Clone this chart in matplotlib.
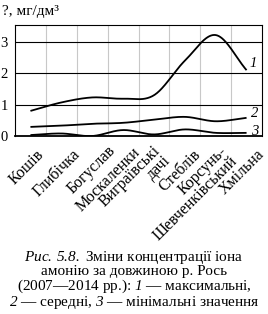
import numpy as np
import matplotlib.pyplot as plt
import matplotlib.transforms as mtransforms

plt.rcParams['font.family'] = ['Liberation Serif', 'DejaVu Serif']
plt.rcParams['mathtext.fontset'] = 'custom'
plt.rcParams['mathtext.rm'] = 'Liberation Serif'
plt.rcParams['mathtext.it'] = 'Liberation Serif:italic'
plt.rcParams['mathtext.bf'] = 'Liberation Serif:italic'

stations = ["Кошів", "Глибічка", "Богуслав", "Москаленки", "Виграївські\nдачі",
            "Стеблів", "Корсунь-\nШевченківський", "Хмільна"]
c_max = [0.80, 1.07, 1.23, 1.19, 1.30, 2.40, 3.22, 2.10]
c_mean = [0.29, 0.33, 0.39, 0.42, 0.52, 0.61, 0.47, 0.58]
c_min = [0.03, 0.08, 0.00, 0.19, 0.05, 0.21, 0.10, 0.10]

# зсув підписів (px) відносно поділки
lab_dx = [11, 16.5, 20.5, 15, 9, 13.5, 14, 15]
lab_dy = [16, 16, 12, 14, 17, 16, 18, 16]


def smooth(y, n=40):
    # згладжена лінія (Catmull-Rom), як у Excel
    y = np.asarray(y, float)
    p = np.concatenate([[2*y[0] - y[1]], y, [2*y[-1] - y[-2]]])
    t = np.linspace(0, 1, n)
    xs, ys = [], []
    for i in range(len(y) - 1):
        m1 = (p[i+2] - p[i]) / 2
        m2 = (p[i+3] - p[i+1]) / 2
        h00 = 2*t**3 - 3*t**2 + 1
        h10 = t**3 - 2*t**2 + t
        h01 = -2*t**3 + 3*t**2
        h11 = t**3 - t**2
        ys.append(h00*p[i+1] + h10*m1 + h01*p[i+2] + h11*m2)
        xs.append(i + t)
    return np.concatenate(xs), np.concatenate(ys)


fig = plt.figure(figsize=(2.68, 3.14), dpi=100)
ax = fig.add_axes([15/268, 1 - 136/314, 247/268, 111.3/314])
x = np.arange(len(stations))

for vals in (c_max, c_mean, c_min):
    sx, sy = smooth(vals)
    ax.plot(sx, sy, color='black', lw=1.3, solid_capstyle='butt')

ax.set_xlim(-0.5, 7.5)
ax.set_ylim(0, 3.55)
for xv in np.arange(0.5, 7.5, 1):
    ax.axvline(xv, color='#c8c8c8', lw=0.8, zorder=0)
for yv in (1, 2, 3):
    ax.axhline(yv, color='black', lw=0.8, zorder=0)
for s in ax.spines.values():
    s.set_linewidth(0.8)
ax.spines['bottom'].set_linewidth(1.3)

ax.set_yticks([0, 1, 2, 3])
ax.tick_params(axis='y', length=0, pad=5, labelsize=10.5)
ax.set_xticks(x)
ax.set_xticklabels(stations, rotation=45, ha='right', va='center',
                   rotation_mode='anchor', fontsize=11.5, linespacing=0.85,
                   multialignment='right')
ax.tick_params(axis='x', length=0, pad=0)
for lab, dx, dy in zip(ax.get_xticklabels(), lab_dx, lab_dy):
    off = mtransforms.ScaledTranslation(dx/100, -dy/100, fig.dpi_scale_trans)
    lab.set_transform(lab.get_transform() + off)

ax.text(7.22, 2.3, "1", style='italic', fontsize=10.5, ha='center', va='center')
ax.text(7.26, 0.73, "2", style='italic', fontsize=10.5, ha='center', va='center')
ax.text(7.26, 0.15, "3", style='italic', fontsize=10.5, ha='center', va='center')

fig.text(2/268, 1 - 12/314, "?, мг/дм³", fontsize=11, ha='left', va='center')

caption = "\n".join([
    r"$\mathbf{Рис.\:5.8.}$ Зміни концентрації іона",
    "амонію за довжиною р. Рось",
    r"(2007—2014 рр.): $\mathbf{1}$ — максимальні,",
    r"$\mathbf{2}$ — середні, $\mathbf{3}$ — мінімальні значення"])
fig.text(0.5, 1 - 280/314, caption, fontsize=11, ha='center', va='center',
         multialignment='center', linespacing=0.92)

fig.savefig("out.png", dpi=100)
